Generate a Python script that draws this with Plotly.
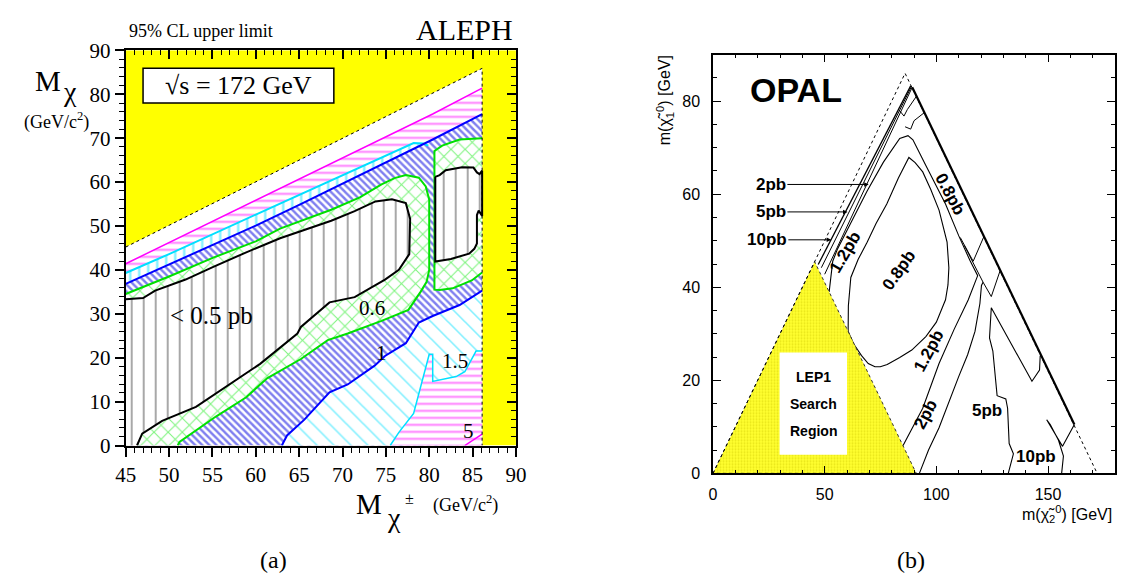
import plotly.graph_objects as go

W, H = 1127, 587
SERIF = "Liberation Serif"
SANS = "Liberation Sans"

# ---------------- (a) ALEPH, sqrt(s) = 172 GeV ----------------
# kinematic limits: M_chi = M_chi+-  and  M_chi+- = sqrt(s)/2
kin_a_x = [45.0, 86.1, 86.1]
kin_a_y = [45.2, 85.9, 0.0]

# iso-limit contours (pb)
mag_top_x = [45.0, 60.0, 70.0, 80.4, 86.1]
mag_top_y = [41.4, 55.8, 65.4, 75.5, 81.4]
cyan_top_x = [45.0, 46.2, 50.0, 60.0, 70.0, 76.0, 78.2, 79.3, 79.9]
cyan_top_y = [39.3, 40.3, 43.6, 52.6, 61.6, 67.0, 68.9, 68.8, 68.3]
blue_top_x = [45.0, 50.0, 55.0, 60.0, 65.0, 70.0, 75.0, 80.4, 86.1]
blue_top_y = [36.8, 41.2, 45.6, 50.1, 54.8, 59.6, 64.5, 69.7, 75.5]
blue_low_x = [63.0, 63.6, 65.6, 68.5, 70.6, 73.7, 74.9, 77.3, 78.8, 80.4, 83.5, 86.1]
blue_low_y = [0.0, 2.3, 5.9, 12.1, 13.9, 18.2, 20.4, 23.3, 28.0, 29.5, 32.0, 35.3]
cyan_low_x = [75.5, 76.5, 78.2, 79.4, 80.0, 80.4, 80.4, 83.1, 84.1, 85.4, 86.1]
cyan_low_y = [0.0, 3.0, 7.3, 16.0, 20.8, 20.8, 14.6, 15.7, 16.8, 21.5, 21.5]
mag_low_x = [84.1, 86.1]
mag_low_y = [0.0, 2.6]
green_x = [45.0, 47.3, 50.0, 55.1, 60.0, 62.8, 65.0, 68.7, 72.0, 74.5, 76.0, 77.3,
           78.8, 79.6, 80.0, 80.0, 79.7, 79.0, 77.6, 74.5, 70.6, 68.3, 65.2, 61.3,
           58.9, 55.4, 51.2, 51.0]
green_y = [34.5, 36.3, 38.5, 42.8, 46.5, 49.4, 51.0, 53.7, 56.5, 59.5, 60.9, 61.6,
           61.0, 59.0, 56.0, 40.0, 37.3, 35.0, 30.9, 28.4, 25.5, 24.0, 19.7, 15.3,
           11.0, 6.6, 0.8, 0.0]
green_isl_x = [86.1, 83.5, 81.5, 80.6, 80.6, 81.2, 82.7, 84.9, 86.1]
green_isl_y = [70.0, 69.7, 68.3, 67.1, 35.5, 35.4, 35.8, 37.6, 39.4]
black_x = [45.0, 47.0, 48.4, 51.9, 55.1, 58.9, 62.8, 65.6, 68.7, 71.4, 73.8, 75.7,
           77.3, 77.8, 77.7, 76.5, 74.9, 71.4, 68.5, 65.2, 64.8, 60.5, 58.6, 53.1,
           49.2, 46.9, 46.3]
black_y = [33.3, 33.6, 35.3, 37.8, 40.7, 44.0, 47.2, 49.1, 51.2, 53.4, 55.6, 56.1,
           55.2, 51.6, 43.6, 40.0, 37.8, 33.8, 32.6, 27.0, 25.5, 18.6, 16.1, 8.8,
           5.6, 2.7, 0.0]
black_isl_x = [80.7, 81.2, 81.9, 83.8, 85.1, 85.5, 85.8, 86.1, 86.1, 85.7, 85.5,
               85.5, 85.2, 84.6, 82.5, 80.7, 80.7]
black_isl_y = [61.2, 61.6, 62.7, 63.4, 63.3, 62.2, 61.8, 62.6, 52.3, 53.5, 52.5,
               46.0, 44.8, 43.7, 42.5, 41.9, 61.2]

# contour level labels
aleph_lbl_text = ["< 0.5 pb", "0.6", "1", "1.5", "5"]
aleph_lbl_x = [54.9, 73.4, 74.5, 83.0, 84.5]
aleph_lbl_y = [29.5, 31.3, 21.1, 19.3, 3.3]

# ---------------- (b) OPAL ----------------
kin_b_x = [0.0, 86.0, 172.0]
kin_b_y = [0.0, 86.0, 0.0]
lep1_x = [0.0, 45.5, 91.0, 0.0]
lep1_y = [0.0, 45.5, 0.0, 0.0]
edge_x = [89.2, 161.8]
edge_y = [83.0, 10.5]
c10_x = [47.1, 88.5]
c10_y = [44.9, 83.3]
c5_x = [48.5, 88.9]
c5_y = [44.2, 83.2]
c2_x = [50.0, 89.2]
c2_y = [42.8, 83.0]
curl1_x = [83.5, 85.5, 87.0, 91.0]
curl1_y = [78.0, 76.8, 78.2, 81.0]
curl2_x = [86.0, 88.5, 90.0, 94.5]
curl2_y = [74.5, 74.0, 75.8, 77.5]
q_x = [52.0, 53.6, 55.8, 61.7, 69.0, 76.3, 83.6, 87.3, 89.5, 95.3, 104.1, 110.0,
       115.0, 118.5, 114.3, 108.0, 101.2, 93.9, 85.1]
q_y = [39.0, 45.6, 48.3, 53.8, 60.7, 66.9, 72.0, 72.6, 71.7, 66.2, 57.9, 51.1,
       45.8, 42.5, 37.3, 31.0, 23.6, 14.0, 6.0]
p_x = [60.5, 60.6, 61.7, 65.0, 69.0, 73.0, 77.8, 83.0, 87.7, 90.5, 93.9, 97.5,
       101.2, 104.8, 105.6, 105.2, 104.1, 100.0, 95.3, 89.0, 83.6, 78.0, 74.9,
       72.5, 69.5, 66.5, 63.0, 60.5]
p_y = [30.5, 36.0, 42.1, 46.0, 49.7, 53.7, 57.9, 63.5, 67.9, 66.8, 64.8, 61.0,
       56.6, 49.7, 44.2, 40.5, 37.3, 32.5, 29.4, 26.5, 24.9, 23.4, 22.9, 22.9,
       23.6, 25.3, 27.8, 30.5]
l2_x = [92.4, 96.5, 101.2, 105.5, 110.0, 114.0, 117.3, 119.5, 120.2, 120.9]
l2_y = [0.0, 5.0, 9.8, 15.3, 20.8, 25.5, 30.5, 36.5, 40.4, 41.1]
v1_x = [110.7, 116.5, 121.2]
v1_y = [50.7, 45.6, 50.8]
v2_x = [112.5, 120.9, 124.6, 128.5]
v2_y = [49.0, 41.1, 38.0, 43.5]
f_x = [146.5, 146.2, 142.8, 124.6, 123.8, 125.3, 127.2, 131.1, 131.9, 132.6, 134.5, 132.2]
f_y = [25.3, 22.2, 19.8, 35.6, 29.1, 26.3, 16.7, 16.0, 14.0, 6.4, 4.2, 0.0]
t_x = [156.1, 156.9, 154.7, 151.0, 149.4, 156.5, 161.8]
t_y = [0.0, 3.7, 7.1, 10.5, 11.5, 5.8, 10.5]

# arrowed labels on the left edge: (label x, label y, arrow tip x)
arrow_lbl_text = ["2pb", "5pb", "10pb"]
arrow_lbl_x = [25.9, 25.9, 24.1]
arrow_lbl_y = [62.1, 56.2, 50.2]
arrow_tip_x = [69.7, 60.2, 52.9]

# in-plot contour labels with their orientation
opal_lbl_text = ["1.2pb", "0.8pb", "0.8pb", "1.2pb", "2pb", "5pb", "10pb"]
opal_lbl_x = [59.1, 83.2, 106.3, 96.5, 95.3, 122.8, 144.4]
opal_lbl_y = [47.5, 43.6, 60.0, 26.2, 12.6, 13.5, 3.6]
opal_lbl_ang = [-60, -55, 62, -62, -62, 0, 0]
lep1_text = ["LEP1", "Search", "Region"]
lep1_text_y = [20.8, 14.8, 9.1]


def pxx(x):
    return x / W


def pxy(y):
    return 1 - y / H


fig = go.Figure()


def region(x, y, shape, color, size, solidity, axes=("x", "y")):
    fig.add_trace(go.Scatter(
        x=x, y=y, mode="lines", fill="toself", fillcolor="white",
        fillpattern=dict(shape=shape, fgcolor=color, bgcolor="white",
                         size=size, solidity=solidity),
        line=dict(width=0), hoverinfo="skip", xaxis=axes[0], yaxis=axes[1]))


def curve(x, y, color="black", width=1.0, dash="solid", axes=("x", "y")):
    fig.add_trace(go.Scatter(
        x=x, y=y, mode="lines", line=dict(color=color, width=width, dash=dash),
        hoverinfo="skip", xaxis=axes[0], yaxis=axes[1]))


# ---- panel (a) ----
fig.add_trace(go.Scatter(x=[45.0] + kin_a_x, y=[0.0] + kin_a_y, mode="lines",
                         fill="toself", fillcolor="white", line=dict(width=0),
                         hoverinfo="skip"))
region(mag_top_x + [86.1, 45.0], mag_top_y + [0.0, 0.0], "-", "#ff00ff", 7, 0.28)
region(cyan_top_x + [79.9, 45.0], cyan_top_y + [0.0, 0.0], "|", "#00e0ff", 9, 0.25)
region(blue_top_x + [86.1, 45.0], blue_top_y + [0.0, 0.0], "\\", "#0000e0", 5, 0.48)
region(blue_low_x + [86.1], blue_low_y + [0.0], "\\", "#00e0ff", 12, 0.13)
region(cyan_low_x + [86.1], cyan_low_y + [0.0], "-", "#ff00ff", 7, 0.28)
region(green_x + [45.0], green_y + [0.0], "x", "#00e800", 10, 0.2)
region(green_isl_x, green_isl_y, "x", "#00e800", 10, 0.2)
region(black_x + [45.0], black_y + [0.0], "|", "#202020", 12, 0.13)
region(black_isl_x, black_isl_y, "|", "#202020", 12, 0.13)

curve(mag_top_x, mag_top_y, "#ff00ff", 1.5)
curve(cyan_top_x, cyan_top_y, "#00e0ff", 2)
curve(blue_top_x, blue_top_y, "#0000ff", 2)
curve(blue_low_x, blue_low_y, "#0000ff", 2)
curve(cyan_low_x, cyan_low_y, "#00e0ff", 1.5)
curve(mag_low_x, mag_low_y, "#ff00ff", 1.5)
curve(green_x, green_y, "#00e000", 2)
curve(green_isl_x, green_isl_y, "#00e000", 2)
curve(black_x, black_y, "black", 2)
curve(black_isl_x, black_isl_y, "black", 2)
curve(kin_a_x, kin_a_y, "black", 1, "dot")

# ---- panel (b) ----
ax2 = ("x2", "y2")
for cx, cy, w in [(c10_x, c10_y, 1.3), (c5_x, c5_y, 1.0), (c2_x, c2_y, 1.0),
                  (curl1_x, curl1_y, 1.0), (curl2_x, curl2_y, 1.0),
                  (q_x, q_y, 1.1), (p_x, p_y, 1.1), (l2_x, l2_y, 1.1),
                  (v1_x, v1_y, 1.0), (v2_x, v2_y, 1.0), (f_x, f_y, 1.1),
                  (t_x, t_y, 1.1), (edge_x, edge_y, 2.2)]:
    curve(cx, cy, "black", w, axes=ax2)

fig.add_trace(go.Scatter(
    x=lep1_x, y=lep1_y, mode="lines", fill="toself", fillcolor="#ffff30",
    fillpattern=dict(shape=".", fgcolor="#d0c800", bgcolor="#ffff30", size=3, solidity=0.35),
    line=dict(color="#333333", width=1, dash="dot"), hoverinfo="skip",
    xaxis="x2", yaxis="y2"))
curve(kin_b_x, kin_b_y, "black", 1, "3px,3px", axes=ax2)

# overlay axes carrying the inward ticks on the top and right of panel (a)
fig.add_trace(go.Scatter(x=[], y=[], xaxis="x3", yaxis="y3", hoverinfo="skip"))

annotations = []
# panel (a) texts
annotations.append(dict(x=pxx(118), y=pxy(20), xref="paper", yref="paper", xanchor="left",
                        text="95% CL upper limit", font=dict(family=SERIF, size=18)))
annotations.append(dict(x=pxx(514), y=pxy(18), xref="paper", yref="paper", xanchor="right",
                        text="ALEPH", font=dict(family=SERIF, size=30)))
annotations.append(dict(x=58.0, y=82.0, xref="x", yref="y", text="√s = 172 GeV",
                        font=dict(family=SERIF, size=26)))
annotations.append(dict(x=pxx(38), y=pxy(72), xref="paper", yref="paper", text="M",
                        font=dict(family=SERIF, size=29)))
annotations.append(dict(x=pxx(60), y=pxy(83), xref="paper", yref="paper", text="χ",
                        font=dict(family=SERIF, size=28)))
annotations.append(dict(x=pxx(46), y=pxy(114), xref="paper", yref="paper",
                        text="(GeV/c<sup>2</sup>)", font=dict(family=SERIF, size=18)))
annotations.append(dict(x=pxx(365), y=pxy(513), xref="paper", yref="paper", text="M",
                        font=dict(family=SERIF, size=29)))
annotations.append(dict(x=pxx(391), y=pxy(527), xref="paper", yref="paper", text="χ",
                        font=dict(family=SERIF, size=28)))
annotations.append(dict(x=pxx(406), y=pxy(507), xref="paper", yref="paper", text="±",
                        font=dict(family=SERIF, size=16)))
annotations.append(dict(x=pxx(464), y=pxy(513), xref="paper", yref="paper",
                        text="(GeV/c<sup>2</sup>)", font=dict(family=SERIF, size=18)))
annotations.append(dict(x=pxx(268), y=pxy(571), xref="paper", yref="paper", text="(a)",
                        font=dict(family=SERIF, size=24)))
for t, x, y in zip(aleph_lbl_text, aleph_lbl_x, aleph_lbl_y):
    annotations.append(dict(x=x, y=y, xref="x", yref="y", text=t,
                            font=dict(family=SERIF, size=25 if t.startswith("<") else 21)))

# panel (b) texts
annotations.append(dict(x=15.7, y=82.4, xref="x2", yref="y2", xanchor="left", text="<b>OPAL</b>",
                        font=dict(family=SANS, size=34)))
for t, x, y, tip in zip(arrow_lbl_text, arrow_lbl_x, arrow_lbl_y, arrow_tip_x):
    annotations.append(dict(x=tip, y=y, ax=x, ay=y, xref="x2", yref="y2", axref="x2", ayref="y2",
                            text="<b>%s</b>" % t, showarrow=True, arrowhead=2, arrowsize=0.9,
                            arrowwidth=1, arrowcolor="black", font=dict(family=SANS, size=17)))
for t, x, y, a in zip(opal_lbl_text, opal_lbl_x, opal_lbl_y, opal_lbl_ang):
    annotations.append(dict(x=x, y=y, xref="x2", yref="y2", text="<b>%s</b>" % t, textangle=a,
                            font=dict(family=SANS, size=17)))
for t, y in zip(lep1_text, lep1_text_y):
    annotations.append(dict(x=45.0, y=y, xref="x2", yref="y2", text="<b>%s</b>" % t,
                            font=dict(family=SANS, size=14)))
annotations.append(dict(x=pxx(667), y=pxy(92), xref="paper", yref="paper", textangle=-90,
                        text="m(χ\u0303<sub>1</sub><sup>0</sup>) [GeV]",
                        font=dict(family=SANS, size=16)))
annotations.append(dict(x=pxx(1125), y=pxy(523), xref="paper", yref="paper", xanchor="right",
                        text="m(χ\u0303<sub>2</sub><sup>0</sup>) [GeV]",
                        font=dict(family=SANS, size=16)))
annotations.append(dict(x=pxx(918), y=pxy(571), xref="paper", yref="paper", text="(b)",
                        font=dict(family=SERIF, size=24)))
for a in annotations:
    a.setdefault("showarrow", False)
    a.setdefault("xanchor", "center")
    a.setdefault("yanchor", "middle")
    a["font"].setdefault("color", "black")

shapes = [
    dict(type="rect", xref="x", yref="y", x0=45, x1=90, y0=0, y1=90,
         fillcolor="#ffff00", line=dict(width=0), layer="below"),
    dict(type="rect", xref="x", yref="y", x0=47.0, x1=69.0, y0=78.0, y1=85.9,
         fillcolor="white", line=dict(color="black", width=1.5), layer="above"),
    dict(type="rect", xref="x2", yref="y2", x0=29.8, x1=60.0, y0=4.0, y1=26.0,
         fillcolor="white", line=dict(width=0), layer="above"),
]

tick_a = dict(family=SERIF, size=21, color="black")
tick_b = dict(family=SANS, size=16, color="black")
common = dict(showgrid=False, zeroline=False, color="black")

fig.update_layout(
    width=W, height=H, margin=dict(l=0, r=0, t=0, b=0),
    paper_bgcolor="white", plot_bgcolor="white", showlegend=False,
    font=dict(color="black", family=SERIF),
    xaxis=dict(domain=[pxx(117), pxx(515)], anchor="y", range=[45, 90], tick0=45, dtick=5,
               ticks="outside", ticklen=9, tickwidth=1.5, tickfont=tick_a,
               minor=dict(dtick=1, ticks="outside", ticklen=5, tickwidth=1, tickcolor="black"),
               showline=True, linewidth=2, linecolor="black", mirror=True, **common),
    yaxis=dict(domain=[pxy(452), pxy(40)], anchor="x", range=[0, 90], dtick=10,
               ticks="outside", ticklen=9, tickwidth=1.5, tickfont=tick_a,
               minor=dict(dtick=2, ticks="outside", ticklen=5, tickwidth=1, tickcolor="black"),
               showline=True, linewidth=2, linecolor="black", mirror=True, **common),
    xaxis3=dict(overlaying="x", side="top", anchor="y", range=[45, 90], tick0=45, dtick=5,
                ticks="inside", ticklen=9, tickwidth=1.5, showticklabels=False, showline=False,
                minor=dict(dtick=1, ticks="inside", ticklen=5, tickwidth=1, tickcolor="black"),
                **common),
    yaxis3=dict(overlaying="y", side="right", anchor="x", range=[0, 90], dtick=10,
                ticks="inside", ticklen=9, tickwidth=1.5, showticklabels=False, showline=False,
                minor=dict(dtick=2, ticks="inside", ticklen=5, tickwidth=1, tickcolor="black"),
                **common),
    xaxis2=dict(domain=[pxx(716), pxx(1126)], anchor="y2", range=[0, 180], dtick=50,
                ticks="inside", ticklen=8, tickwidth=1.2, tickfont=tick_b, ticklabelstandoff=6,
                minor=dict(dtick=10, ticks="inside", ticklen=4, tickwidth=1, tickcolor="black"),
                showline=True, linewidth=1.5, linecolor="black", mirror="ticks", **common),
    yaxis2=dict(domain=[pxy(481), pxy(44.5)], anchor="x2", range=[0, 90], dtick=20,
                ticks="inside", ticklen=8, tickwidth=1.2, tickfont=tick_b, ticklabelstandoff=8,
                minor=dict(dtick=5, ticks="inside", ticklen=4, tickwidth=1, tickcolor="black"),
                showline=True, linewidth=1.5, linecolor="black", mirror="ticks", **common),
    annotations=annotations, shapes=shapes,
)

fig.write_html("out.html")
